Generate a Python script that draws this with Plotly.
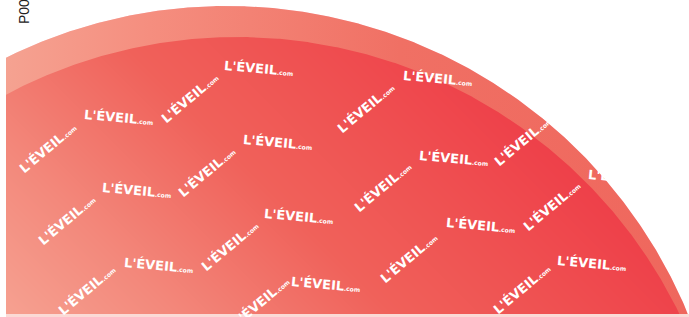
import numpy as np
import plotly.graph_objects as go

# ---- data -------------------------------------------------------------
categories = ["P00"]
values = [100]

# watermark logo text (the pattern printed on the slice)
logo_text = "L'ÉVEIL"
logo_suffix = ".com"

# ---- geometry / style (pixel space, y downward) ------------------------
W, H = 689, 317
OUTER_C, OUTER_R = (227.0, 505.0), 499.0   # lighter outer ring
INNER_C, INNER_R = (237.0, 529.0), 492.0   # main slice

total = float(sum(values))


def slice_outline(center, radius, value, n=1441):
    """Outline of a pie slice of `value` (fraction of total), in pixel space."""
    frac = value / total
    ang = np.pi / 2 + np.linspace(0.0, 2 * np.pi * frac, n)
    return center[0] + radius * np.cos(ang), center[1] + radius * np.sin(ang)


ox, oy = slice_outline(OUTER_C, OUTER_R, values[0])
ix, iy = slice_outline(INNER_C, INNER_R, values[0])

fig = go.Figure()

# main slice diagonal gradient (light bottom-left -> red top-right)
gx = [-600.0, 1300.0]
gy = [-600.0, 1300.0]
gz = [[gx[i] - gy[j] for i in range(2)] for j in range(2)]
smin, smax = -310.0, 450.0
inner_stops = [(-310, "#F6A191"), (-140, "#F3887B"), (80, "#F0615A"),
               (250, "#EF5051"), (450, "#EE3B47")]
fig.add_trace(go.Heatmap(
    x=gx, y=gy, z=gz, zsmooth="best", zmin=smin, zmax=smax,
    colorscale=[[(s - smin) / (smax - smin), c] for s, c in inner_stops],
    showscale=False, hoverinfo="skip"))

# outer ring (outer slice minus main slice)
ring_x = np.concatenate([ox, ix[::-1]])
ring_y = np.concatenate([oy, iy[::-1]])
fig.add_trace(go.Scatter(
    x=ring_x, y=ring_y, mode="lines", line=dict(width=0), fill="toself",
    fillgradient=dict(type="horizontal", start=6, stop=689,
                      colorscale=[[0, "#F5A291"], [0.21, "#F58E7F"],
                                  [0.577, "#F07064"], [1, "#EF675D"]]),
    hoverinfo="skip", name=categories[0]))

# white outside the pie
bx = [OUTER_C[0], 1300, 1300, -600, -600, OUTER_C[0]]
by = [1300, 1300, -600, -600, 1300, 1300]
mask_x = np.concatenate([bx, ox, [OUTER_C[0]]])
mask_y = np.concatenate([by, oy, [1300]])
fig.add_trace(go.Scatter(
    x=mask_x, y=mask_y, mode="lines", line=dict(width=0), fill="toself",
    fillcolor="white", hoverinfo="skip"))

# watermark pattern
h_logos = [(258, 68), (118, 117), (437, 78), (277, 142), (136, 190),
           (453, 158), (298, 216), (158, 265), (480, 225), (325, 284),
           (591, 263), (622, 177)]
r_logos = [(47, 148), (189, 98), (365, 108), (522, 141), (66, 220),
           (206, 172), (382, 187), (551, 206), (86, 290), (229, 246),
           (408, 258), (521, 289), (260, 302)]
txt = logo_text + "<span style='font-size:6px'>" + logo_suffix + "</span>"
logo_font = dict(family="DejaVu Sans", size=13, color="white", weight="bold")
annots = []
for (x, y) in h_logos:
    annots.append(dict(x=x, y=y, xref="x", yref="y", text=txt, showarrow=False,
                       textangle=5, xanchor="center", yanchor="middle",
                       font=logo_font))
for (x, y) in r_logos:
    annots.append(dict(x=x, y=y, xref="x", yref="y", text=txt, showarrow=False,
                       textangle=-40, xanchor="center", yanchor="middle",
                       font=logo_font))

# series label
annots.append(dict(x=24, y=12, xref="x", yref="y", text=categories[0],
                   showarrow=False, textangle=-90, xanchor="center", yanchor="middle",
                   font=dict(family="Liberation Sans", size=14, color="#222222")))

fig.update_layout(
    width=W, height=H, margin=dict(l=0, r=0, t=0, b=0),
    paper_bgcolor="white", plot_bgcolor="white", showlegend=False,
    xaxis=dict(range=[0, W], visible=False, fixedrange=True),
    yaxis=dict(range=[H, 0], visible=False, fixedrange=True),
    annotations=annots,
    shapes=[
        dict(type="rect", xref="x", yref="y", x0=-2, x1=6, y0=-2, y1=H + 2,
             fillcolor="white", line=dict(width=0), layer="above"),
        dict(type="rect", xref="x", yref="y", x0=6, x1=W + 2, y0=314, y1=H + 2,
             fillcolor="#FBDAD6", line=dict(width=0), layer="above"),
    ],
)

fig.write_html(
    "out.html",
    config={"displayModeBar": False, "staticPlot": True},
    post_script="document.body.style.margin='0';document.body.style.overflow='hidden';",
)
